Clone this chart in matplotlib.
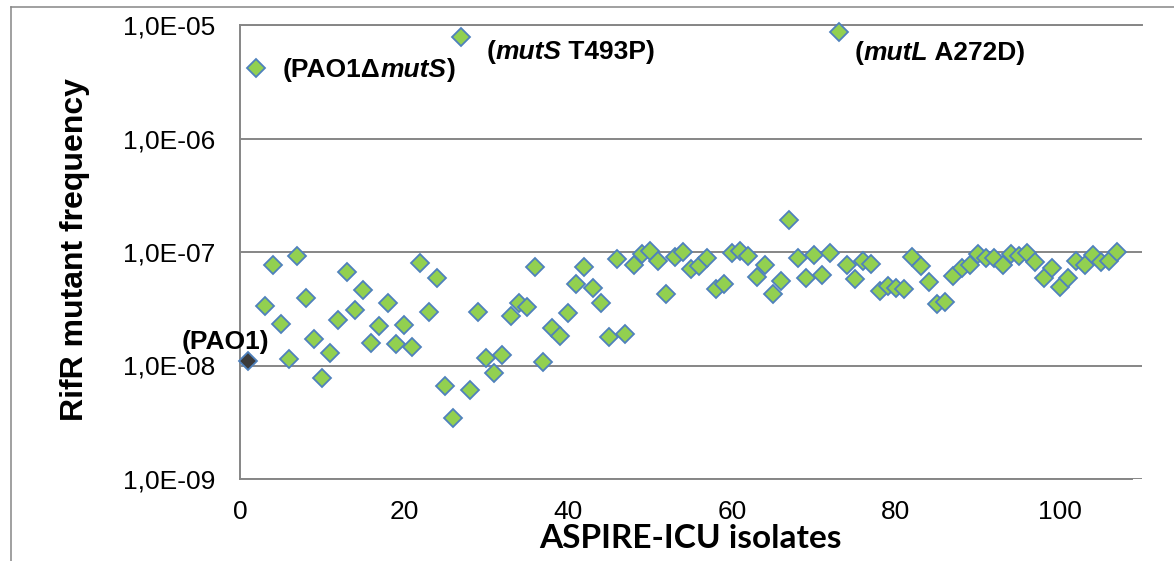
import numpy as np
import matplotlib
matplotlib.use('Agg')
from matplotlib import pyplot as plt
from matplotlib.ticker import FuncFormatter, NullLocator
from matplotlib.offsetbox import TextArea, HPacker, AnnotationBbox
from matplotlib.lines import Line2D

plt.rcParams['font.family'] = 'Liberation Sans'

# reference strains
pao1_x = [1]
pao1_freq = [1.10e-8]
mutS_del_x = [2]
mutS_del_freq = [4.18e-6]

# ASPIRE-ICU isolates, x = 3..107
isolate_x = list(range(3, 108))
isolate_freq = [
    3.34e-8, 7.68e-8, 2.32e-8, 1.14e-8, 9.22e-8, 3.93e-8, 1.71e-8, 7.76e-9, 1.29e-8, 2.52e-8,
    6.67e-8, 3.08e-8, 4.63e-8, 1.58e-8, 2.23e-8, 3.56e-8, 1.55e-8, 2.28e-8, 1.46e-8, 8.0e-8,
    2.96e-8, 5.9e-8, 6.6e-9, 3.45e-9, 7.84e-6, 6.1e-9, 2.96e-8, 1.16e-8, 8.6e-9, 1.24e-8,
    2.73e-8, 3.56e-8, 3.28e-8, 7.38e-8, 1.07e-8, 2.14e-8, 1.82e-8, 2.90e-8, 5.22e-8, 7.38e-8,
    4.82e-8, 3.56e-8, 1.78e-8, 8.67e-8, 1.90e-8, 7.68e-8, 9.6e-8, 1.02e-7, 8.33e-8, 4.27e-8,
    9.04e-8, 1.0e-7, 7.08e-8, 7.53e-8, 8.85e-8, 4.72e-8, 5.22e-8, 9.8e-8, 1.02e-7, 9.22e-8,
    6.02e-8, 7.68e-8, 4.27e-8, 5.55e-8, 1.91e-7, 8.85e-8, 5.9e-8, 9.4e-8, 6.27e-8, 9.8e-8,
    8.67e-6, 7.68e-8, 5.78e-8, 8.33e-8, 7.83e-8, 4.53e-8, 5.01e-8, 4.82e-8, 4.72e-8, 9.04e-8,
    7.53e-8, 5.44e-8, 3.48e-8, 3.63e-8, 6.15e-8, 7.23e-8, 7.68e-8, 9.6e-8, 8.85e-8, 8.85e-8,
    7.68e-8, 9.6e-8, 9.22e-8, 9.8e-8, 8.17e-8, 5.9e-8, 7.23e-8, 4.92e-8, 5.9e-8, 8.33e-8,
    7.68e-8, 9.4e-8, 8.17e-8, 8.33e-8, 1.0e-7,
]

x_ticks = [0, 20, 40, 60, 80, 100]
y_ticks = [1e-9, 1e-8, 1e-7, 1e-6, 1e-5]

W, H = 1174, 561
fig = plt.figure(figsize=(W / 100, H / 100), dpi=100)
ax = fig.add_axes([240 / W, 1 - 479 / H, 902 / W, 454 / H])

grey = '#868686'
green = '#92D050'
blue = '#4F81BD'

mk = dict(marker='D', ls='none', ms=8.9, mew=1.3, mec=blue, clip_on=False, zorder=3)
ax.plot(isolate_x, isolate_freq, mfc=green, **mk)
ax.plot(mutS_del_x, mutS_del_freq, mfc=green, **mk)
ax.plot(pao1_x, pao1_freq, mfc='#3b3b3b', **mk)

ax.set_yscale('log')
ax.set_ylim(1e-9, 1e-5)
ax.set_xlim(0, 110)
ax.set_yticks(y_ticks)
ax.yaxis.set_minor_locator(NullLocator())
ax.set_xticks(x_ticks)
ax.yaxis.set_major_formatter(FuncFormatter(lambda v, p: f'{v:.1E}'.replace('.', ',')))
ax.tick_params(axis='both', length=0, labelsize=19)
ax.tick_params(axis='y', pad=18)
ax.tick_params(axis='x', pad=15)
ax.grid(axis='y', color=grey, lw=1.4)
ax.set_axisbelow(True)
for side in ['left', 'bottom', 'top']:
    ax.spines[side].set_color(grey)
    ax.spines[side].set_linewidth(1.4)
ax.spines['right'].set_visible(False)
ax.spines['bottom'].set_bounds(0, 108.8)


def label(parts, xy, offset, align):
    kids = []
    for s, style in parts:
        kids.append(TextArea(s, textprops=dict(fontsize=19, fontweight='bold',
                                                fontstyle=style, family='Liberation Sans')))
    box = HPacker(children=kids, align='baseline', pad=0, sep=0)
    ab = AnnotationBbox(box, xy, xybox=offset, xycoords='data', boxcoords='offset points',
                        box_alignment=align, frameon=False, pad=0, annotation_clip=False)
    ax.add_artist(ab)


label([('(PAO1\u0394', 'normal'), ('mutS', 'italic'), (')', 'normal')],
      (mutS_del_x[0], mutS_del_freq[0]), (19, -1.5), (0, 0.5))
label([('(', 'normal'), ('mutS', 'italic'), (' T493P)', 'normal')],
      (27, isolate_freq[27 - 3]), (18, -11), (0, 0.5))
label([('(', 'normal'), ('mutL', 'italic'), (' A272D)', 'normal')],
      (73, isolate_freq[73 - 3]), (11.5, -15), (0, 0.5))
label([('(PAO1)', 'normal')], (pao1_x[0], pao1_freq[0]), (-16.5, 13.5), (0.5, 0.5))

fig.text(75 / W, 1 - 250 / H, 'RifR mutant frequency', rotation=90, ha='center', va='center',
         fontsize=23, fontweight='bold')
fig.text(690 / W, 1 - 548 / H, 'ASPIRE-ICU isolates', ha='center', va='baseline',
         fontsize=24, fontweight='bold', family='Lato')

# chart area border (left and top edges visible)
fig.add_artist(Line2D([11 / W, 11 / W], [1 - 7 / H, 0], transform=fig.transFigure, color=grey, lw=1.1))
fig.add_artist(Line2D([11 / W, 1], [1 - 7 / H, 1 - 7 / H], transform=fig.transFigure, color=grey, lw=1.1))

fig.savefig('out.png', dpi=100)
